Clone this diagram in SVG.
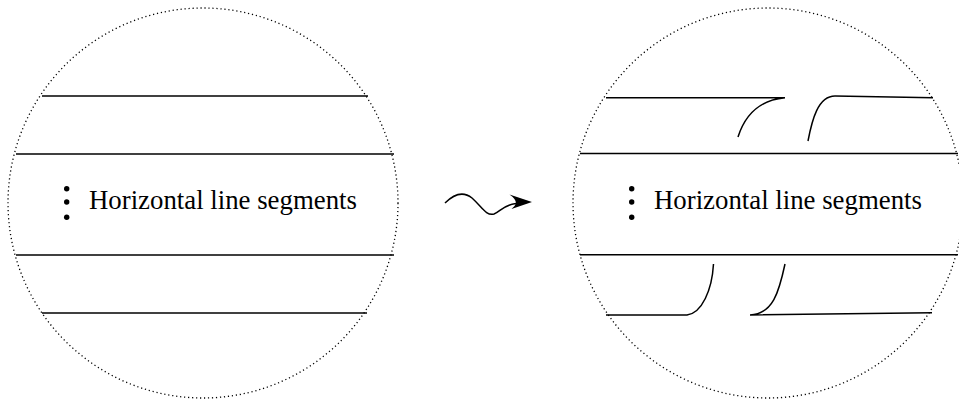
<svg xmlns="http://www.w3.org/2000/svg" width="959" height="400" viewBox="0 0 959 400">
<style>
.circ{fill:none;stroke:#000;stroke-width:1.3;stroke-dasharray:1.2 2.8}
.ln{fill:none;stroke:#000;stroke-width:1.5}
.lbl{font-family:"Liberation Serif","Times New Roman",serif;font-size:26.8px;fill:#000}
.dot{fill:#000}
</style>
<g id="left">
<circle class="circ" cx="203" cy="203" r="195"/>
<line class="ln" x1="42" y1="96" x2="368" y2="96"/>
<line class="ln" x1="16" y1="154" x2="394" y2="154"/>
<line class="ln" x1="16" y1="255" x2="394" y2="255"/>
<line class="ln" x1="42" y1="313" x2="367" y2="313"/>
<circle class="dot" cx="66.7" cy="188.7" r="2.7"/>
<circle class="dot" cx="66.7" cy="202" r="2.7"/>
<circle class="dot" cx="66.7" cy="217.3" r="2.7"/>
<text class="lbl" x="89" y="209">Horizontal line segments</text>
</g>
<g id="right">
<circle class="circ" cx="768" cy="203" r="195"/>
<path class="ln" d="M606 97.7 L785 97.7 C760 100 745 115 738 137"/>
<path class="ln" d="M808 141 C812 120 818 96 835 96 L933 97.7"/>
<line class="ln" x1="580" y1="153.5" x2="958" y2="153.5"/>
<line class="ln" x1="580" y1="254.7" x2="958" y2="254.7"/>
<path class="ln" d="M606 315 L687 315 C702 313 712 290 713.5 264"/>
<path class="ln" d="M785 264 C779 292 773 314 750 315 L932 312.7"/>
<circle class="dot" cx="631.7" cy="188.7" r="2.7"/>
<circle class="dot" cx="631.7" cy="202" r="2.7"/>
<circle class="dot" cx="631.7" cy="217.3" r="2.7"/>
<text class="lbl" x="654" y="209">Horizontal line segments</text>
</g>
<g id="connectors">
<path class="ln" d="M445 203 C453 195 462 190 472 198 C482 207 486 216 494 214 C500 212 503 205 516 203.5"/>
<path d="M532 202 L509.5 194.5 Q516 199 516 203.3 Q515 206.5 511.5 209 Z" fill="#000"/>
</g>
</svg>
